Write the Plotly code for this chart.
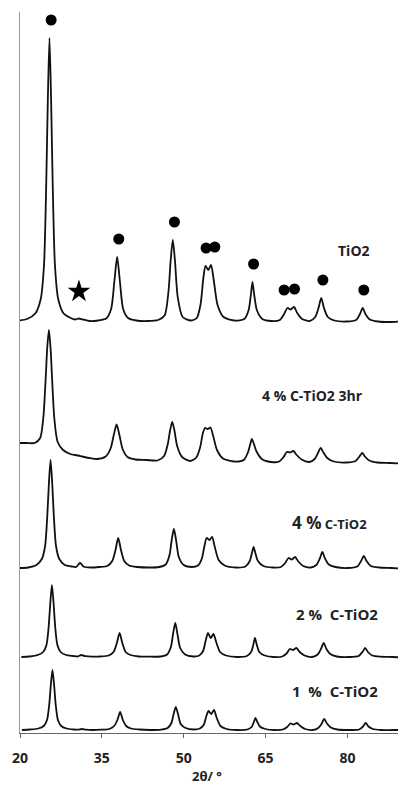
import numpy as np
import plotly.graph_objects as go

# 2theta grid (degrees) shared by all patterns
two_theta = [20, 21.5, 23, 24.0, 24.6, 25.0, 25.3, 25.6, 25.9, 26.2, 26.6, 27.2, 28.2, 29.5,
             30.3, 31.0, 31.7, 33, 34.5, 36.0, 36.9, 37.5, 38.0, 38.5, 39.1, 40.0, 41.5, 43.5,
             45.5, 46.7, 47.4, 47.8, 48.2, 48.6, 49.1, 50.0, 51.5, 52.6, 53.3, 53.8, 54.2, 54.7,
             55.2, 55.7, 56.4, 57.5, 59.5, 61.3, 62.1, 62.5, 62.8, 63.1, 63.6, 64.6, 66.3, 67.8,
             68.6, 69.2, 69.8, 70.4, 71.0, 71.9, 73.3, 74.3, 74.9, 75.4, 75.9, 76.6, 77.8, 80.0,
             81.8, 82.5, 83.0, 83.5, 84.3, 85.8, 88.0, 90.0]

# intensities (arbitrary units)
tio2 = [1.5, 3, 8.5, 23, 57, 136, 222, 284, 222, 136, 57, 23, 8.5, 4,
        2.5, 3.5, 2.5, 1, 1.5, 3.5, 13, 41, 65, 41, 13, 4, 1.5, 1,
        2, 6.5, 30, 61, 82, 61, 25, 5, 1.5, 4, 18, 44, 56, 52,
        57, 42, 17, 5, 1.5, 3, 12, 27, 40, 28, 12, 3, 1, 2,
        8, 14, 12.5, 15, 9, 3, 1, 5, 14, 24, 14, 5, 1.5, 0.5,
        2, 8, 14, 8, 2.5, 0.5, 0, 0.5]
c4_3hr = [20, 20, 20, 25, 47, 84, 116, 133, 115, 82, 44, 21, 13, 9,
          8, 7.5, 6.5, 5, 4, 6.5, 14.5, 28.5, 38.5, 28.5, 14, 6, 3.5, 3,
          2.5, 7, 19.5, 32.5, 41, 32.5, 17, 6, 2, 5.5, 15.5, 29.5, 35, 34,
          35.5, 27, 13, 4.5, 1.5, 3, 11, 19, 24, 20, 12, 4, 1, 1.5,
          6, 11, 10.5, 12, 8, 3.5, 1, 4, 10, 15, 10.5, 5, 1.5, 0.5,
          2, 6.5, 10, 6.5, 2.5, 0.5, 0, -0.5]
c4 = [0, 0.5, 3, 9, 22, 52, 85, 108, 85, 52, 22, 9, 3, 1.5,
      1, 5, 1.2, 0.5, 1, 2, 7, 18, 30, 18, 7, 2.5, 1, 0.5,
      1, 3.5, 13, 28, 39, 28, 11, 3, 1, 2.5, 9, 22, 30, 28,
      31, 21, 8, 2.5, 0.5, 1.5, 7, 15, 21, 15.5, 7, 2, 0.5, 1,
      5, 10, 8.5, 11, 6.5, 2, 0.5, 3, 9, 16, 9.5, 3.5, 1, 0,
      1.5, 7, 12, 7, 2, 0.5, 0, -0.5]
c2 = [0, 0.5, 2, 5, 12, 30, 54, 72, 54, 30, 12, 5, 2, 1,
      0.5, 2, 0.8, 0.3, 0.5, 1.5, 5, 14, 24, 14, 5, 2, 0.5, 0.3,
      0.5, 2.5, 10, 23, 34, 23, 9, 2.5, 0.5, 1.5, 6, 17, 24, 19,
      23, 15, 5, 1.5, 0, 1, 5, 12, 19, 13, 5, 1.5, 0, 0.5,
      3.5, 8, 7, 9, 5, 1.5, 0, 2.5, 8, 14, 8, 3, 0.5, 0,
      1, 5, 9, 5, 1.5, 0.3, 0, -0.5]
c1 = [0, 0.5, 1.5, 4, 10, 25, 45, 60, 45, 25, 10, 4, 1.5, 0.5,
      0.3, 1, 0.3, 0, 0.3, 1, 4, 10, 18, 10, 4, 1.5, 0.5, 0,
      0.3, 2, 7, 16, 23, 16, 6, 2, 0.5, 1.5, 5, 14, 19, 16,
      20, 12, 4, 1, 0, 0.5, 3, 8, 12, 8.5, 3.5, 1, 0, 0.5,
      3, 6.5, 5.5, 7, 4, 1, 0, 2, 6, 11, 6.5, 2.5, 0.5, 0,
      0.5, 3.5, 7, 3.5, 1, 0, 0, 0]

series_names = ["TiO2", "4 % C-TiO2 3hr", "4 % C-TiO2", "2 % C-TiO2", "1 % C-TiO2"]
series_values = [tio2, c4_3hr, c4, c2, c1]
peak_shift = [-0.2, -0.3, 0.0, 0.25, 0.35]
stack_offset = [411, 270, 165, 76, 3]

anatase_marks = [25.7, 38.1, 48.3, 54.1, 55.7, 62.8, 68.4, 70.3, 75.5, 83.0]
brookite_marks = [30.8]
x_ticks = [20, 35, 50, 65, 80]

fig = go.Figure()
xg = np.array(two_theta)
for name, vals, sh, off in zip(series_names, series_values, peak_shift, stack_offset):
    fig.add_trace(go.Scatter(x=xg + sh, y=np.array(vals) + off, mode="lines",
                             line=dict(color="#111111", width=1.8, shape="spline", smoothing=0.7),
                             name=name, showlegend=False))

t = np.array(tio2)
def local_top(xc):
    m = (xg > xc - 0.9) & (xg < xc + 0.9)
    return t[m].max() + stack_offset[0]

fig.add_trace(go.Scatter(x=anatase_marks, y=[local_top(v) + 18 for v in anatase_marks],
                         mode="markers", marker=dict(symbol="circle", size=11, color="black"),
                         showlegend=False))
fig.add_trace(go.Scatter(x=brookite_marks, y=[local_top(v) + 27 for v in brookite_marks],
                         mode="markers", marker=dict(symbol="star", size=17, color="black"),
                         showlegend=False))

lab_font = dict(family="Open Sans", size=14, color="#222222", weight="bold")
sp = "\u00a0"
labels = [
    (81.2, 483, "TiO2", 14),
    (73.6, 338, "4" + sp + "%" + sp + "C-TiO2" + sp + "3hr", 14),
    (76.8, 211, "<span style='font-size:17px'>4" + sp + "%</span>" + sp + "C-TiO2", 13),
    (78.0, 119, "2" + sp + "%" + sp + sp + "C-TiO2", 15),
    (77.8, 42, "1" + sp + sp + "%" + sp + sp + "C-TiO2", 15),
]
for lx, ly, txt, fs in labels:
    fig.add_annotation(x=lx, y=ly, text=txt, showarrow=False,
                       font=dict(lab_font, size=fs),
                       xanchor="center", yanchor="middle")

fig.add_annotation(x=0.49, y=-0.06, xref="paper", yref="paper", text="2θ/ °",
                   showarrow=False, font=dict(family="Open Sans", size=13, color="#222222", weight="bold"),
                   xanchor="center", yanchor="middle")

# page body has an 8px default margin: the figure is sized/margined to compensate
fig.update_layout(
    width=398, height=787,
    margin=dict(l=9, r=4, t=4, b=62),
    paper_bgcolor="white", plot_bgcolor="white",
    xaxis=dict(range=[20, 90], tickvals=x_ticks, ticktext=[str(v) for v in x_ticks],
               showgrid=False, zeroline=False, showline=True, linecolor="#666666", linewidth=1,
               ticks="outside", ticklen=4, tickcolor="#666666", ticklabelstandoff=8,
               tickfont=dict(family="Open Sans", size=14, color="#222222", weight="bold")),
    yaxis=dict(range=[0, 721], showgrid=False, zeroline=False, showline=True,
               linecolor="#999999", linewidth=1, showticklabels=False, ticks=""),
)

fig.write_html("out.html")
